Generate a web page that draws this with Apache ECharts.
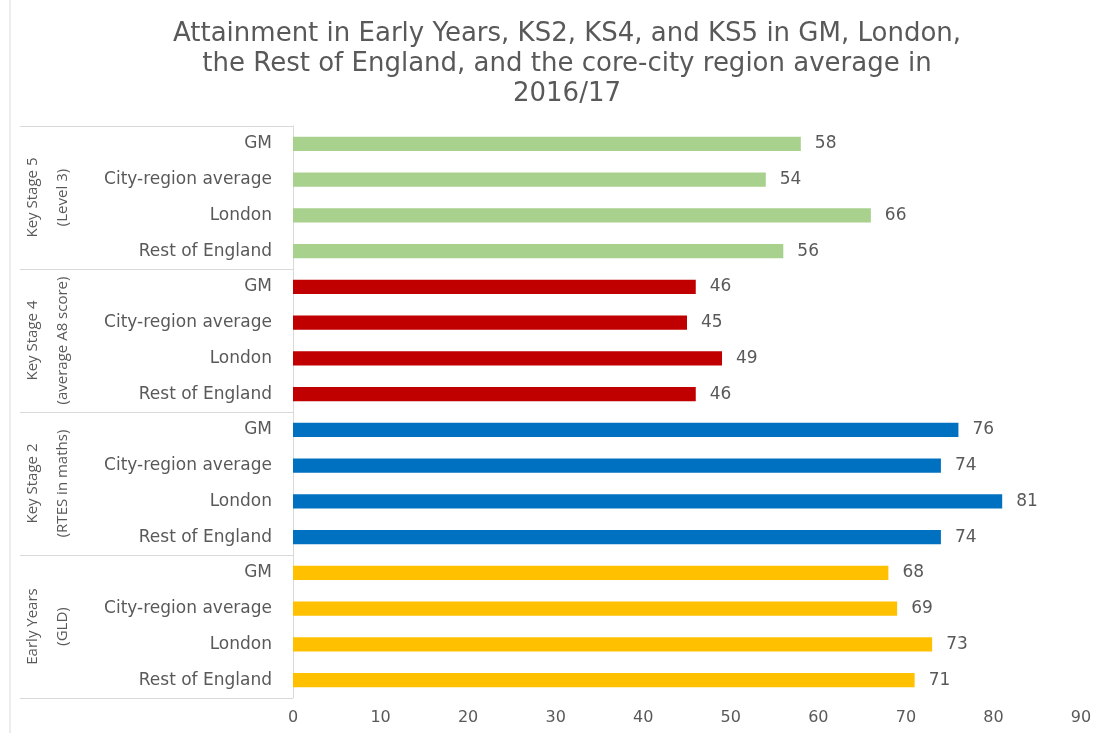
<!DOCTYPE html>
<html lang="en">
<head>
    <meta charset="UTF-8">
    <title>Attainment 2016/17</title>
    <script src="https://cdn.jsdelivr.net/npm/echarts@6/dist/echarts.min.js"></script>
    <style>
        html, body { margin: 0; padding: 0; background: #fff; }
        #chart { width: 1107px; height: 733px; }
    </style>
</head>
<body>
<div id="chart"></div>
<script>
    // data, top group first
    var groups = ['Key Stage 5\n(Level 3)', 'Key Stage 4\n(average A8 score)', 'Key Stage 2\n(RTES in maths)', 'Early Years\n(GLD)'];
    var areas = ['GM', 'City-region average', 'London', 'Rest of England'];
    var ks5 = [58, 54, 66, 56];
    var ks4 = [46, 45, 49, 46];
    var ks2 = [76, 74, 81, 74];
    var earlyYears = [68, 69, 73, 71];
    var groupValues = [ks5, ks4, ks2, earlyYears];
    var groupColors = ['#a9d18e', '#c00000', '#0070c0', '#ffc000'];
    var xTicks = [0, 10, 20, 30, 40, 50, 60, 70, 80, 90];

    var categories = [];
    var barData = [];
    groupValues.forEach(function (vals, g) {
        vals.forEach(function (v, i) {
            categories.push(areas[i]);
            barData.push({ value: v, itemStyle: { color: groupColors[g] } });
        });
    });

    var txt = '#595959';
    var font = '"DejaVu Sans", sans-serif';
    var chart = echarts.init(document.getElementById('chart'));
    chart.setOption({
        animation: false,
        textStyle: { fontFamily: font },
        title: {
            text: 'Attainment in Early Years, KS2, KS4, and KS5 in GM, London,\nthe Rest of England, and the core-city region average in\n2016/17',
            left: 562,
            top: 14,
            textAlign: 'center',
            textStyle: { fontSize: 26, fontWeight: 'normal', color: txt, lineHeight: 30, fontFamily: font }
        },
        graphic: [{
            type: 'line',
            shape: { x1: 10, y1: 0, x2: 10, y2: 733 },
            style: { stroke: '#d9d9d9', lineWidth: 1 }
        }],
        grid: { left: 293, right: 26, top: 126, bottom: 35 },
        xAxis: {
            type: 'value',
            min: xTicks[0],
            max: xTicks[xTicks.length - 1],
            interval: 10,
            splitLine: { show: false },
            axisLine: { show: false },
            axisTick: { show: false },
            axisLabel: { fontSize: 16, color: txt, margin: 12 }
        },
        yAxis: [{
            type: 'category',
            data: categories,
            inverse: true,
            axisLine: { show: true, lineStyle: { color: '#d9d9d9' } },
            axisTick: { show: false },
            axisLabel: { fontSize: 17, color: txt, margin: 21, interval: 0 }
        }, {
            type: 'category',
            data: groups,
            inverse: true,
            position: 'left',
            offset: 273,
            axisLine: { show: false },
            axisTick: { show: true, inside: true, length: 273, interval: 0, lineStyle: { color: '#d9d9d9' } },
            axisLabel: {
                inside: true, rotate: 90, margin: 28, interval: 0,
                fontSize: 15, color: txt, lineHeight: 30, align: 'center', verticalAlign: 'middle',
                fontFamily: '"Open Sans", sans-serif'
            }
        }],
        series: [{
            type: 'bar',
            data: barData,
            barWidth: '40%',
            label: { show: true, position: 'right', distance: 14, fontSize: 17, color: txt }
        }]
    });
</script>
</body>
</html>
